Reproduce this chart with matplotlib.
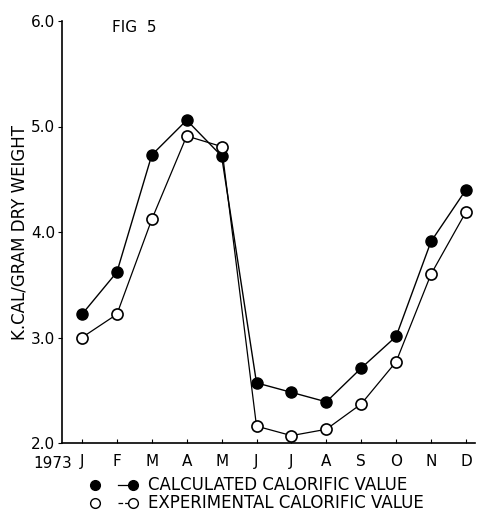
import matplotlib
matplotlib.use("Agg")
import matplotlib.pyplot as plt
from matplotlib.lines import Line2D

months = ["J", "F", "M", "A", "M", "J", "J", "A", "S", "O", "N", "D"]
calculated = [3.22, 3.62, 4.73, 5.06, 4.72, 2.57, 2.48, 2.39, 2.71, 3.01, 3.91, 4.40]
experimental = [3.00, 3.22, 4.12, 4.91, 4.81, 2.16, 2.07, 2.13, 2.37, 2.77, 3.60, 4.19]
yticks = [2.0, 3.0, 4.0, 5.0, 6.0]

plt.rcParams['font.family'] = ['DejaVu Sans']
fig = plt.figure(figsize=(4.79, 5.15), dpi=100)
ax = fig.add_axes([62/479, 1-443/515, (475-62)/479, (443-21)/515])

x = list(range(len(months)))
ax.plot(x, calculated, color='black', lw=1.0, marker='o', ms=8,
        mfc='black', mec='black', zorder=3)
ax.plot(x, experimental, color='black', lw=0.9, marker='o', ms=8,
        mfc='white', mec='black', mew=1.2, zorder=3)

ax.set_xlim(-0.573, 11.26)
ax.set_ylim(2.0, 6.0)
ax.set_yticks(yticks)
ax.set_yticklabels([f"{v:.1f}" for v in yticks], fontsize=11)
ax.set_xticks(x)
ax.set_xticklabels(months, fontsize=11)
ax.tick_params(axis='x', direction='in', length=3, pad=8)
ax.tick_params(axis='y', direction='out', length=3, pad=2)
for s in ['top', 'right']:
    ax.spines[s].set_visible(False)
ax.spines['left'].set_linewidth(1.2)
ax.spines['bottom'].set_linewidth(1.2)

ax.set_ylabel("K.CAL/GRAM DRY WEIGHT", fontsize=12, labelpad=2)
fig.text(33/479, 1-463/515, "1973", fontsize=11, va='center', ha='left')
fig.text(112/479, 1-27/515, "FIG  5", fontsize=11, va='center', ha='left')

# legend drawn manually in figure coordinates
for yy, face, ls in [(485, 'black', '-'), (503, 'white', '--')]:
    yf = 1 - yy/515
    fig.add_artist(Line2D([95/479], [yf], marker='o', ms=7, mfc=face, mec='black',
                          ls='none', transform=fig.transFigure))
    fig.add_artist(Line2D([118/479, 133/479], [yf, yf], color='black', lw=0.9, ls=ls,
                          marker=None, transform=fig.transFigure))
    fig.add_artist(Line2D([133/479], [yf], marker='o', ms=7, mfc=face, mec='black',
                          ls='none', transform=fig.transFigure))
fig.text(148/479, 1-485/515, "CALCULATED CALORIFIC VALUE", fontsize=12, va='center', ha='left')
fig.text(148/479, 1-503/515, "EXPERIMENTAL CALORIFIC VALUE", fontsize=12, va='center', ha='left')

fig.savefig("out.png", dpi=100)
